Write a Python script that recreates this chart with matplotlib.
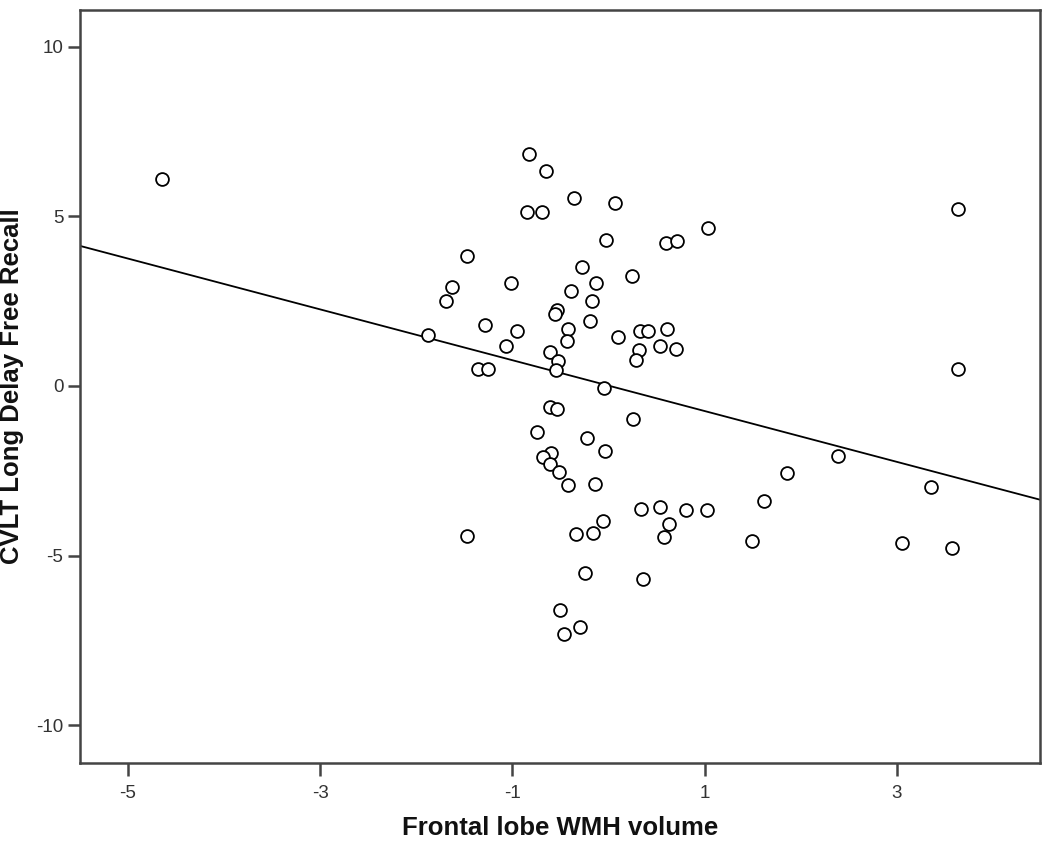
import numpy as np
import matplotlib
matplotlib.use("Agg")
import matplotlib.pyplot as plt

plt.rcParams['font.family'] = ['Liberation Sans', 'DejaVu Sans']

wmh_volume = [
    -4.65, -0.83, -0.65, -0.36, 0.07, -0.85, -0.69, 3.64, 1.03, -0.03,
    0.60, 0.71, -1.47, -0.28, 0.24, -1.02, -0.13, -1.63, -1.69, -0.39,
    -0.17, -0.54, -0.56, -0.19, -1.29, -0.95, -0.42, -0.43, -1.88, 0.10,
    0.33, 0.41, 0.61, -1.07, 0.54, 0.70, 0.32, 0.29, -0.61, -0.53,
    -0.55, -1.36, -1.25, 3.64, -0.05, -0.61, -0.54, 0.25, -0.74, -0.22,
    -0.04, -0.60, -0.68, -0.61, -0.52, -0.42, -0.14, 0.34, 0.54, 0.81,
    1.02, 0.63, 0.58, -0.06, -0.16, -0.34, -1.47, -0.25, 0.36, -0.51,
    -0.30, -0.46, 1.49, 2.39, 1.86, 3.36, 1.62, 3.05, 3.57,
]
cvlt_recall = [
    6.11, 6.84, 6.34, 5.55, 5.40, 5.13, 5.13, 5.22, 4.66, 4.31,
    4.22, 4.28, 3.83, 3.51, 3.24, 3.04, 3.04, 2.92, 2.51, 2.80,
    2.51, 2.24, 2.12, 1.92, 1.80, 1.62, 1.68, 1.33, 1.50, 1.45,
    1.62, 1.62, 1.68, 1.18, 1.18, 1.09, 1.06, 0.77, 1.00, 0.74,
    0.47, 0.50, 0.50, 0.50, -0.06, -0.62, -0.68, -0.97, -1.36, -1.53,
    -1.92, -1.98, -2.09, -2.30, -2.54, -2.92, -2.89, -3.63, -3.57, -3.66,
    -3.66, -4.07, -4.45, -3.98, -4.34, -4.37, -4.42, -5.52, -5.69, -6.61,
    -7.11, -7.32, -4.57, -2.06, -2.57, -2.98, -3.39, -4.63, -4.78,
]
x_ticks = [-5, -3, -1, 1, 3]
y_ticks = [-10, -5, 0, 5, 10]
x_label = "Frontal lobe WMH volume"
y_label = "CVLT Long Delay Free Recall"

x = np.array(wmh_volume)
y = np.array(cvlt_recall)
slope, intercept = np.polyfit(x, y, 1)

fig = plt.figure(figsize=(10.5, 8.43), dpi=100)
ax = fig.add_axes([80/1050, 80/843, 960/1050, 753/843])

xlim = (-5.5, 4.49)
ylim = (-11.12, 11.09)
xx = np.array(xlim)
ax.plot(xx, intercept + slope * xx, color='black', lw=1.3, zorder=2)
ax.scatter(x, y, s=85, facecolors='white', edgecolors='black', linewidths=1.3, zorder=3)

ax.set_xlim(*xlim)
ax.set_ylim(*ylim)
ax.set_xticks(x_ticks)
ax.set_yticks(y_ticks)
ax.set_xticklabels([str(t) for t in x_ticks])
ax.set_yticklabels([str(t) for t in y_ticks])
for sp in ax.spines.values():
    sp.set_color('#444444')
    sp.set_linewidth(1.8)
ax.tick_params(direction='out', length=9, width=1.8, color='#444444',
               labelsize=13.5, labelcolor='#333333', pad=3)
ax.tick_params(axis='x', pad=7)
ax.set_xlabel(x_label, fontsize=18.5, fontweight='bold', color='#111111')
ax.set_ylabel(y_label, fontsize=18.5, fontweight='bold', color='#111111')
ax.xaxis.set_label_coords(0.5, (763 - 828) / 753)
ax.xaxis.label.set_va('center')
ax.yaxis.set_label_coords((12 - 80) / 960, 0.5)
ax.yaxis.label.set_va('center')

fig.savefig("out.png", dpi=100)
